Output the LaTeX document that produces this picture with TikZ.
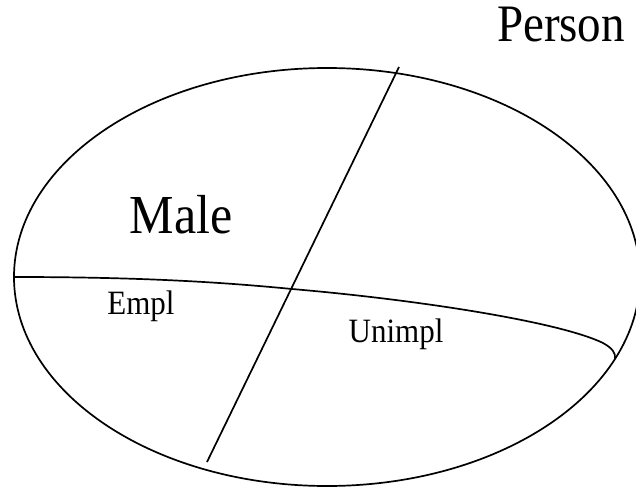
\documentclass[tikz,border=0pt]{standalone}
\usepackage{fontspec}
\setmainfont{Liberation Serif}
\begin{document}
\begin{tikzpicture}[x=1pt,y=-1pt,
  shape line/.style={line width=1.7pt, black},
  lbl/.style={inner sep=0pt, anchor=base}]
\useasboundingbox (0,0) rectangle (636,489);
\coordinate (c) at (327,277);
\draw[shape line] (c) ellipse [x radius=313, y radius=209];
\coordinate (lt) at (399,67);
\coordinate (lb) at (207,462);
\draw[shape line] (lt) -- (lb);
\coordinate (cl) at (14.5,277);
\coordinate (cx) at (292,289);
\coordinate (ce) at (615,359);
\draw[shape line] (cl) .. controls (150,277) and (230,283) .. (cx)
  .. controls (420,300) and (560,322) .. (603,343)
  .. controls (612,348) and (616,353) .. (ce);
\node[lbl, font=\fontsize{47}{56}\selectfont] (person) at (561,42) {\scalebox{1}[1.12]{Person}};
\node[lbl, font=\fontsize{50}{60}\selectfont] (male) at (181,233) {\scalebox{1}[1.1]{Male}};
\node[lbl, font=\fontsize{31}{36}\selectfont] (empl) at (141,314) {\scalebox{1}[1.1]{Empl}};
\node[lbl, font=\fontsize{31}{36}\selectfont] (unimpl) at (396,342) {\scalebox{1}[1.1]{Unimpl}};
\end{tikzpicture}
\end{document}
